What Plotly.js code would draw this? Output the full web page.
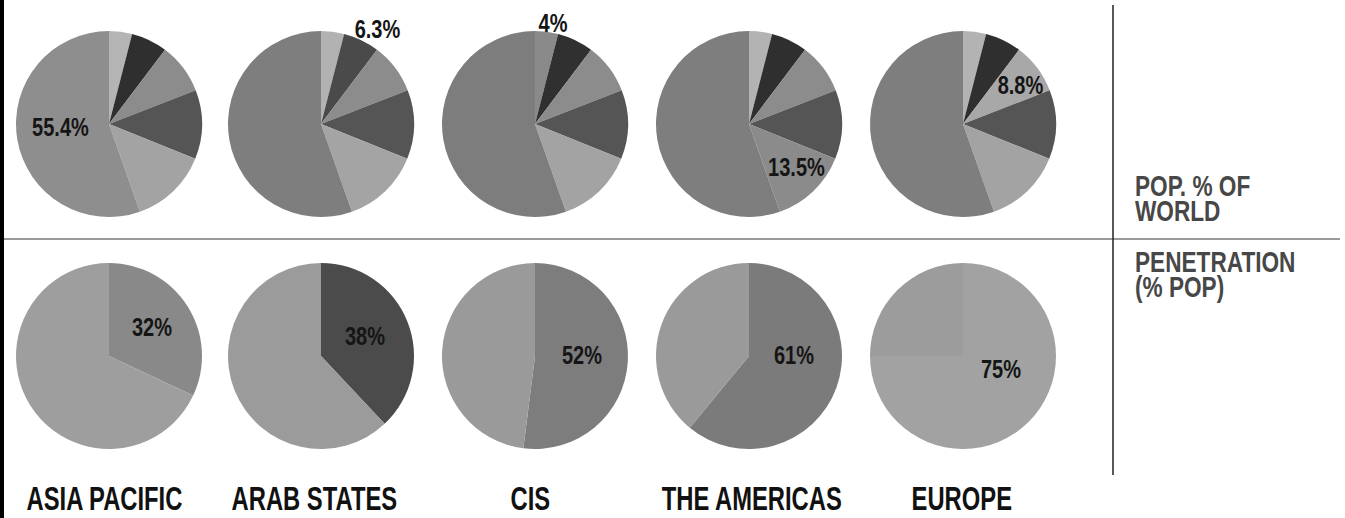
<!DOCTYPE html>
<html>
<head>
<meta charset="utf-8">
<script src="https://cdn.plot.ly/plotly-3.0.1.min.js"></script>
<style>html,body{margin:0;padding:0;background:#fff;}#chart{width:1345px;height:518px;}</style>
</head>
<body>
<div id="chart"></div>
<script>
// ---- data ----
const regions = ['ASIA PACIFIC', 'ARAB STATES', 'CIS', 'THE AMERICAS', 'EUROPE'];
// world population share slices, clockwise from 12 o'clock
const popLabels = ['CIS', 'Arab States', 'Europe', 'Africa', 'The Americas', 'Asia Pacific'];
const popValues = [4, 6.3, 8.8, 12, 13.5, 55.4];
// which population slice each region's pie highlights
const popHighlight = [5, 1, 0, 4, 2];
// internet penetration (% of population)
const penetration = [32, 38, 52, 61, 75];
const rowTitles = [['POP. % OF', 'WORLD'], ['PENETRATION', '(% POP)']];

// ---- styles ----
const W = 1345, H = 518;
const centersX = [109, 321, 535, 749, 963];
const R = 93;
const topCY = 124, botCY = 356;
const popColors = [
  ['#b4b4b4', '#2f2f2f', '#8c8c8c', '#555555', '#a3a3a3', '#8e8e8e'],
  ['#b2b2b2', '#4a4a4a', '#8c8c8c', '#555555', '#a4a4a4', '#7e7e7e'],
  ['#8a8a8a', '#303030', '#8c8c8c', '#555555', '#a3a3a3', '#7d7d7d'],
  ['#b3b3b3', '#2f2f2f', '#8c8c8c', '#555555', '#8b8b8b', '#7e7e7e'],
  ['#b3b3b3', '#2f2f2f', '#a8a8a8', '#555555', '#a3a3a3', '#7e7e7e']
];
const penColors = [
  ['#898989', '#9e9e9e'],
  ['#4b4b4b', '#9b9b9b'],
  ['#7d7d7d', '#9a9a9a'],
  ['#7b7b7b', '#9a9a9a'],
  ['#a2a2a2', '#9c9c9c']
];
// label positions (px) for highlighted values
const popLabelPos = [[60, 127], [378, 29], [553, 23], [796, 167], [1020, 85]];
const penLabelPos = [[152, 327], [365, 336], [582, 355], [794, 355], [1001, 369]];
const regionLabelX = [104, 314, 530, 752, 962];

function dom(cx, cy) {
  return { x: [(cx - R) / W, (cx + R) / W], y: [1 - (cy + R) / H, 1 - (cy - R) / H] };
}

const traces = [];
regions.forEach((reg, i) => {
  traces.push({
    type: 'pie', labels: popLabels, values: popValues, sort: false,
    direction: 'clockwise', rotation: 0, textinfo: 'none', hoverinfo: 'label+value',
    marker: { colors: popColors[i], line: { width: 0 } },
    domain: dom(centersX[i], topCY), showlegend: false
  });
  traces.push({
    type: 'pie', labels: ['Online', 'Offline'], values: [penetration[i], 100 - penetration[i]], sort: false,
    direction: 'clockwise', rotation: 0, textinfo: 'none', hoverinfo: 'label+value',
    marker: { colors: penColors[i], line: { width: 0 } },
    domain: dom(centersX[i], botCY), showlegend: false
  });
});

const fontFam = '"Liberation Sans", Arial, sans-serif';
const annotations = [];
const squeeze = [];   // horizontal condensing per annotation
const origin = [];
function ann(x, y, text, size, color, xanchor, sx) {
  annotations.push({
    xref: 'paper', yref: 'paper', x: x / W, y: 1 - y / H, xanchor: xanchor, yanchor: 'middle',
    text: text, showarrow: false,
    font: { family: fontFam, size: size, color: color, weight: 'bold' }
  });
  squeeze.push(sx);
  origin.push(xanchor === 'left' ? 'left center' : 'center center');
}
regions.forEach((reg, i) => {
  ann(popLabelPos[i][0], popLabelPos[i][1], popValues[popHighlight[i]] + '%', 25, '#151515', 'center', 0.8);
  ann(penLabelPos[i][0], penLabelPos[i][1], penetration[i] + '%', 25, '#151515', 'center', 0.8);
  ann(regionLabelX[i], 498, reg, 34, '#111111', 'center', 0.7);
});
const titleY = [[186, 211], [262, 287]];
rowTitles.forEach((lines, r) => {
  lines.forEach((ln, k) => {
    ann(1133, titleY[r][k], ln, 29, '#474747', 'left', 0.78);
  });
});

const shapes = [
  { type: 'line', xref: 'paper', yref: 'paper', x0: 0, x1: 1340 / W, y0: 1 - 239 / H, y1: 1 - 239 / H,
    line: { color: '#9a9a9a', width: 2 } },
  { type: 'line', xref: 'paper', yref: 'paper', x0: 1113 / W, x1: 1113 / W, y0: 1 - 5 / H, y1: 1 - 475 / H,
    line: { color: '#222222', width: 1.5 } },
  { type: 'rect', xref: 'paper', yref: 'paper', x0: 0, x1: 4 / W, y0: 0, y1: 1,
    fillcolor: '#000000', line: { width: 0 } }
];

Plotly.newPlot('chart', traces, {
  width: W, height: H, margin: { l: 0, r: 0, t: 0, b: 0 },
  paper_bgcolor: '#ffffff', plot_bgcolor: '#ffffff',
  annotations: annotations, shapes: shapes, showlegend: false
}, { displayModeBar: false, staticPlot: true }).then(gd => {
  gd.querySelectorAll('g.annotation').forEach(g => {
    const idx = +g.getAttribute('data-index');
    const t = g.querySelector('text');
    if (!t || isNaN(idx)) return;
    t.style.transformBox = 'fill-box';
    t.style.transformOrigin = origin[idx];
    t.style.transform = 'scaleX(' + squeeze[idx] + ')';
  });
});
</script>
</body>
</html>
